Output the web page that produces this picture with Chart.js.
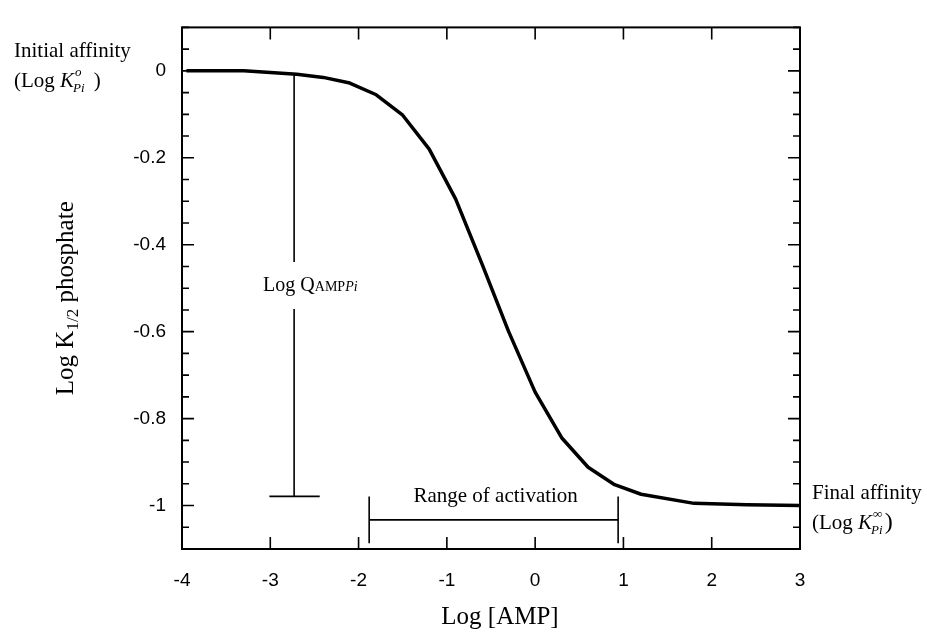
<!DOCTYPE html>
<html lang="en">
<head>
  <meta charset="UTF-8">
  <title>Log K1/2 phosphate vs Log [AMP]</title>
  <script src="https://cdn.jsdelivr.net/npm/chart.js"></script>
  <style>
    html, body { margin: 0; padding: 0; background: #fff; }
    #wrap { width: 927px; height: 634px; }
  </style>
</head>
<body>
<div id="wrap"><canvas id="affinityChart"></canvas></div>
<script>
  // curve
  const logAMP = [-3.95, -3.3, -2.7, -2.4, -2.1, -1.8, -1.5, -1.2, -0.9, -0.6, -0.3, 0, 0.3, 0.6, 0.9, 1.2, 1.8, 2.4, 3.0];
  const logK   = [0, 0, -0.008, -0.015, -0.028, -0.055, -0.102, -0.18, -0.295, -0.445, -0.6, -0.739, -0.844, -0.912, -0.952, -0.974, -0.995, -0.998, -1.0];

  const xTickValues = [-4, -3, -2, -1, 0, 1, 2, 3];
  const yTickValues = [0, -0.2, -0.4, -0.6, -0.8, -1];
  const xRange = [-4, 3];
  const yRange = [-1.1, 0.1];
  const yMinorStep = 0.05;

  // the Log Q bar (broken round its label) and the range of activation bracket
  const qLineX = -2.73;
  const qLineY = [-0.008, -0.44, -0.548, -0.979]; // top, gap start, gap end, bottom
  const qCapX = [-3.01, -2.44];
  const rangeX = [-1.88, 0.94];
  const rangeY = -1.033;
  const rangeBarY = [-0.979, -1.087];

  const serif = '"Liberation Serif", "Times New Roman", serif';
  const sans = '"Liberation Sans", Arial, sans-serif';

  const segments = [
    [[qLineX, qLineY[0]], [qLineX, qLineY[1]]],
    [[qLineX, qLineY[2]], [qLineX, qLineY[3]]],
    [[qCapX[0], qLineY[3]], [qCapX[1], qLineY[3]]],
    [[rangeX[0], rangeY], [rangeX[1], rangeY]],
    [[rangeX[0], rangeBarY[0]], [rangeX[0], rangeBarY[1]]],
    [[rangeX[1], rangeBarY[0]], [rangeX[1], rangeBarY[1]]]
  ];

  const curve = {
    data: logAMP.map((v, i) => ({ x: v, y: logK[i] })),
    showLine: true,
    borderColor: '#000',
    borderWidth: 3.5,
    borderJoinStyle: 'round',
    pointRadius: 0,
    tension: 0
  };
  const segSets = segments.map(seg => ({
    data: seg.map(p => ({ x: p[0], y: p[1] })),
    showLine: true,
    borderColor: '#000',
    borderWidth: 1.6,
    pointRadius: 0
  }));

  // write pieces of text one after another (for sub/superscripts)
  function runWidth(ctx, runs) {
    let w = 0;
    runs.forEach(r => { ctx.font = r.font; w += ctx.measureText(r.text).width; });
    return w;
  }
  function drawRuns(ctx, runs, x, y) {
    runs.forEach(r => {
      ctx.font = r.font;
      ctx.fillText(r.text, x, y + (r.dy || 0));
      x += ctx.measureText(r.text).width;
    });
  }
  // "(Log K^sup_Pi )"
  function drawKLabel(ctx, x, y, sup, closeFont, gap) {
    ctx.font = '21px ' + serif;
    ctx.fillText('(Log ', x, y);
    x += ctx.measureText('(Log ').width;
    ctx.font = 'italic 21px ' + serif;
    ctx.fillText('K', x, y);
    x += ctx.measureText('K').width;
    ctx.font = 'italic 13px ' + serif;
    ctx.fillText(sup, x + 1, y - 11);
    ctx.fillText('Pi', x - 1, y + 5);
    x += Math.max(ctx.measureText(sup).width + 1, ctx.measureText('Pi').width - 1);
    ctx.font = closeFont;
    ctx.fillText(')', x + gap, y);
  }

  const frameAndText = {
    id: 'frameAndText',
    afterDraw(chart) {
      const { ctx, chartArea: a } = chart;
      const x = chart.scales.x, y = chart.scales.y;
      ctx.save();
      ctx.strokeStyle = '#000';
      ctx.fillStyle = '#000';

      // frame
      ctx.lineWidth = 2;
      ctx.strokeRect(a.left, a.top, a.right - a.left, a.bottom - a.top);

      // inward ticks
      ctx.lineWidth = 1.6;
      ctx.beginPath();
      xTickValues.forEach(v => {
        const px = x.getPixelForValue(v);
        ctx.moveTo(px, a.bottom); ctx.lineTo(px, a.bottom - 12);
        ctx.moveTo(px, a.top); ctx.lineTo(px, a.top + 12);
      });
      for (let v = yRange[0]; v <= yRange[1] + 1e-9; v += yMinorStep) {
        const major = yTickValues.some(t => Math.abs(t - v) < 1e-6);
        const len = major ? 12 : 7;
        const py = y.getPixelForValue(v);
        ctx.moveTo(a.left, py); ctx.lineTo(a.left + len, py);
        ctx.moveTo(a.right, py); ctx.lineTo(a.right - len, py);
      }
      ctx.stroke();

      ctx.textBaseline = 'alphabetic';
      ctx.textAlign = 'left';

      // axis titles
      const xt = [{ text: 'Log [AMP]', font: '25px ' + serif }];
      drawRuns(ctx, xt, (a.left + a.right) / 2 + 9 - runWidth(ctx, xt) / 2, a.bottom + 75);

      const yt = [
        { text: 'Log K', font: '25px ' + serif },
        { text: '1/2', font: '17px ' + serif, dy: 5 },
        { text: ' phosphate', font: '25px ' + serif }
      ];
      ctx.save();
      ctx.translate(a.left - 109, (a.top + a.bottom) / 2 + 10);
      ctx.rotate(-Math.PI / 2);
      drawRuns(ctx, yt, -runWidth(ctx, yt) / 2, 0);
      ctx.restore();

      // Log Q label on the broken bar
      const q = [
        { text: 'Log Q', font: '20px ' + serif },
        { text: 'AMP', font: '14px ' + serif },
        { text: 'Pi', font: 'italic 14px ' + serif }
      ];
      drawRuns(ctx, q, x.getPixelForValue(qLineX) - 31, y.getPixelForValue(-0.5) + 3);

      // range of activation label
      ctx.font = '21px ' + serif;
      ctx.textAlign = 'center';
      ctx.fillText('Range of activation',
        (x.getPixelForValue(rangeX[0]) + x.getPixelForValue(rangeX[1])) / 2 + 2,
        y.getPixelForValue(-1) - 4);
      ctx.textAlign = 'left';

      // initial / final affinity notes
      const y0 = y.getPixelForValue(0), y1 = y.getPixelForValue(-1);
      ctx.font = '21px ' + serif;
      ctx.fillText('Initial affinity', 14, y0 - 14);
      drawKLabel(ctx, 14, y0 + 16, 'o', '21px ' + serif, 9);
      ctx.font = '21px ' + serif;
      ctx.fillText('Final affinity', a.right + 12, y1 - 7);
      drawKLabel(ctx, a.right + 12, y1 + 23, '\u221E', '24px ' + serif, 2);

      ctx.restore();
    }
  };

  new Chart(document.getElementById('affinityChart'), {
    type: 'scatter',
    data: { datasets: [curve, ...segSets] },
    options: {
      responsive: true,
      maintainAspectRatio: false,
      animation: false,
      layout: { padding: { left: 0, right: 127, top: 14, bottom: 0 } },
      plugins: {
        legend: { display: false },
        tooltip: { enabled: false }
      },
      scales: {
        x: {
          type: 'linear',
          min: xRange[0],
          max: xRange[1],
          afterBuildTicks: s => { s.ticks = xTickValues.map(v => ({ value: v })); },
          afterFit: s => { s.height = 85; },
          grid: { display: false, drawTicks: false },
          border: { display: false },
          ticks: {
            padding: 20,
            maxRotation: 0,
            autoSkip: false,
            color: '#000',
            font: { family: sans, size: 19 },
            callback: v => String(v)
          }
        },
        y: {
          type: 'linear',
          min: yRange[0],
          max: yRange[1],
          afterBuildTicks: s => { s.ticks = yTickValues.map(v => ({ value: v })); },
          afterFit: s => { s.width = 182; },
          grid: { display: false, drawTicks: false },
          border: { display: false },
          ticks: {
            padding: 16,
            autoSkip: false,
            color: '#000',
            font: { family: sans, size: 19 },
            callback: v => String(v)
          }
        }
      }
    },
    plugins: [frameAndText]
  });
</script>
</body>
</html>
